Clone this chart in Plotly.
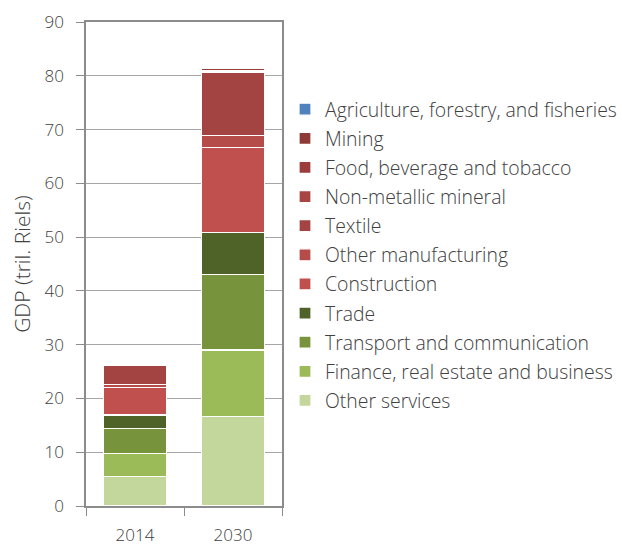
import plotly.graph_objects as go

years = ["2014", "2030"]
sectors = [
    "Other services",
    "Finance, real estate and business",
    "Transport and communication",
    "Trade",
    "Construction",
    "Other manufacturing",
    "Textile",
    "Non-metallic mineral",
    "Food, beverage and tobacco",
    "Mining",
    "Agriculture, forestry, and fisheries",
]
other_services = [5.5, 16.6]
finance = [4.2, 12.4]
transport = [4.7, 14.1]
trade = [2.5, 7.8]
construction = [5.2, 15.7]
other_manufacturing = [0.5, 2.3]
textile = [3.6, 11.7]
non_metallic = [0.0, 0.3]
food = [0.0, 0.4]
mining = [0.0, 0.0]
agriculture = [0.0, 0.0]

values = [other_services, finance, transport, trade, construction,
          other_manufacturing, textile, non_metallic, food, mining, agriculture]
colors = ["#c3d69b", "#9bbb59", "#77933c", "#4f6228", "#c0504d", "#b64c4a",
          "#a44442", "#a84442", "#9b3d3b", "#8e3a37", "#4f81bd"]

fig = go.Figure()
for i, (name, vals, col) in enumerate(zip(sectors, values, colors)):
    fig.add_trace(go.Bar(x=years, y=vals, name=name, legendgroup=name,
                         legendrank=2000 - 10 * i,
                         marker=dict(color=col, line=dict(color="white", width=1.25))))

font_family = "Open Sans"
txt = "#404040"
fig.update_layout(
    barmode="stack",
    bargap=0.36,
    width=622, height=546,
    margin=dict(l=86, r=340, t=22, b=40),
    paper_bgcolor="white", plot_bgcolor="white",
    font=dict(family=font_family, size=17, color=txt, weight=300),
    legend=dict(xref="container", yref="container", x=1.0, y=0.835,
                xanchor="right", yanchor="top", maxheight=1,
                traceorder="grouped", font=dict(size=19.4, color=txt, weight=300),
                itemwidth=30, tracegroupgap=0.9),
    showlegend=True,
)
fig.update_yaxes(range=[0, 90], dtick=10, showgrid=True, gridcolor="#a6a6a6", gridwidth=1,
                 showline=True, linecolor="#8c8c8c", linewidth=1.5, mirror=True,
                 ticks="outside", ticklen=8, tickcolor="#8c8c8c", zeroline=False,
                 ticklabelstandoff=9, automargin=False,
                 title=dict(text="GDP (tril. Riels)", font=dict(size=21, color=txt, weight=300), standoff=8))
fig.update_xaxes(showline=True, linecolor="#8c8c8c", linewidth=1.5, mirror=True,
                 ticks="outside", ticklen=8, tickcolor="#8c8c8c", tickson="boundaries",
                 ticklabelstandoff=13, automargin=False)
fig.write_html("out.html")
